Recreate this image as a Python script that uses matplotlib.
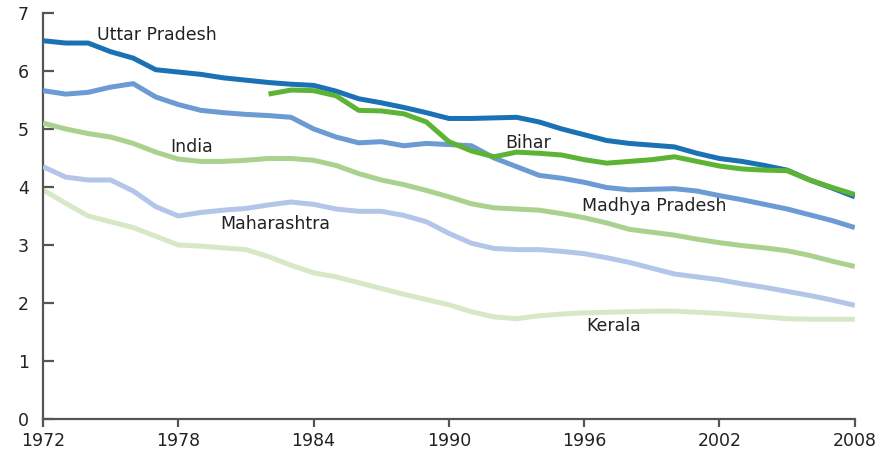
import matplotlib
matplotlib.use("Agg")
import matplotlib.pyplot as plt

years = list(range(1972, 2009))

uttar_pradesh = [6.52, 6.48, 6.48, 6.33, 6.22, 6.02, 5.98, 5.94, 5.88, 5.84, 5.80, 5.77, 5.75,
                 5.65, 5.52, 5.45, 5.37, 5.28, 5.18, 5.18, 5.19, 5.20, 5.12, 5.00, 4.90, 4.80,
                 4.75, 4.72, 4.69, 4.58, 4.49, 4.44, 4.37, 4.29, 4.12, 3.98, 3.83]

madhya_pradesh = [5.66, 5.60, 5.63, 5.72, 5.78, 5.55, 5.42, 5.32, 5.28, 5.25, 5.23, 5.20, 5.00,
                  4.86, 4.76, 4.78, 4.71, 4.75, 4.73, 4.71, 4.50, 4.35, 4.20, 4.15, 4.08, 3.99,
                  3.95, 3.96, 3.97, 3.93, 3.85, 3.78, 3.70, 3.62, 3.52, 3.42, 3.30]

bihar_years = list(range(1982, 2009))
bihar = [5.60, 5.67, 5.66, 5.57, 5.32, 5.31, 5.26, 5.12, 4.78, 4.62, 4.52, 4.60, 4.58, 4.55,
         4.47, 4.41, 4.44, 4.47, 4.52, 4.44, 4.36, 4.31, 4.29, 4.28, 4.12, 3.99, 3.87]

india = [5.10, 5.00, 4.92, 4.86, 4.75, 4.60, 4.48, 4.44, 4.44, 4.46, 4.49, 4.49, 4.46,
         4.37, 4.23, 4.12, 4.04, 3.94, 3.83, 3.71, 3.64, 3.62, 3.60, 3.54, 3.47, 3.38,
         3.27, 3.22, 3.17, 3.10, 3.04, 2.99, 2.95, 2.90, 2.82, 2.72, 2.63]

maharashtra = [4.35, 4.17, 4.12, 4.12, 3.93, 3.66, 3.50, 3.56, 3.60, 3.63, 3.69, 3.74, 3.70,
               3.62, 3.58, 3.58, 3.51, 3.40, 3.20, 3.03, 2.94, 2.92, 2.92, 2.89, 2.85, 2.78,
               2.70, 2.60, 2.50, 2.45, 2.40, 2.33, 2.27, 2.20, 2.13, 2.05, 1.96]

kerala = [3.95, 3.72, 3.50, 3.40, 3.30, 3.15, 3.00, 2.98, 2.95, 2.92, 2.80, 2.65, 2.52,
          2.45, 2.35, 2.25, 2.15, 2.06, 1.97, 1.85, 1.76, 1.73, 1.78, 1.81, 1.83, 1.84,
          1.85, 1.86, 1.86, 1.84, 1.82, 1.79, 1.76, 1.73, 1.72, 1.72, 1.72]

x_ticks = [1972, 1978, 1984, 1990, 1996, 2002, 2008]
y_ticks = [0, 1, 2, 3, 4, 5, 6, 7]

plt.rcParams['font.family'] = ['DejaVu Sans']

fig = plt.figure(figsize=(8.96, 4.59), dpi=100)
ax = fig.add_axes([0.048, 0.087, 0.906, 0.885])

lw = 3.6
kw = dict(lw=lw, solid_capstyle='butt', solid_joinstyle='round')
ax.plot(years, kerala, color='#d7e8c6', zorder=2, **kw)
ax.plot(years, maharashtra, color='#b3c6ea', zorder=3, **kw)
ax.plot(years, india, color='#abd18f', zorder=4, **kw)
ax.plot(years, madhya_pradesh, color='#6b9bd2', zorder=5, **kw)
ax.plot(years, uttar_pradesh, color='#1a72b5', zorder=6, **kw)
ax.plot(bihar_years, bihar, color='#5db334', zorder=7, **kw)

tc = '#222222'
fs = 12.5
ax.text(1977.05, 6.62, 'Uttar Pradesh', fontsize=fs, color=tc, ha='center', va='center')
ax.text(1978.6, 4.69, 'India', fontsize=fs, color=tc, ha='center', va='center')
ax.text(1982.3, 3.37, 'Maharashtra', fontsize=fs, color=tc, ha='center', va='center')
ax.text(1993.5, 4.75, 'Bihar', fontsize=fs, color=tc, ha='center', va='center')
ax.text(1999.1, 3.67, 'Madhya Pradesh', fontsize=fs, color=tc, ha='center', va='center')
ax.text(1997.3, 1.60, 'Kerala', fontsize=fs, color=tc, ha='center', va='center')

ax.set_xlim(1972, 2008)
ax.set_ylim(0, 7)
ax.set_xticks(x_ticks)
ax.set_xticklabels([str(t) for t in x_ticks])
ax.set_yticks(y_ticks)
ax.set_yticklabels([str(t) for t in y_ticks])

for s in ['top', 'right']:
    ax.spines[s].set_visible(False)
for s in ['left', 'bottom']:
    ax.spines[s].set_color('#555555')
    ax.spines[s].set_linewidth(1.6)

ax.tick_params(axis='y', direction='in', length=8, width=1.6, color='#555555',
               labelsize=12.5, labelcolor='#222222', pad=10)
ax.tick_params(axis='x', direction='out', length=6, width=1.6, color='#555555',
               labelsize=12.5, labelcolor='#222222', pad=3)

fig.savefig('out.png', dpi=100, facecolor='white')
